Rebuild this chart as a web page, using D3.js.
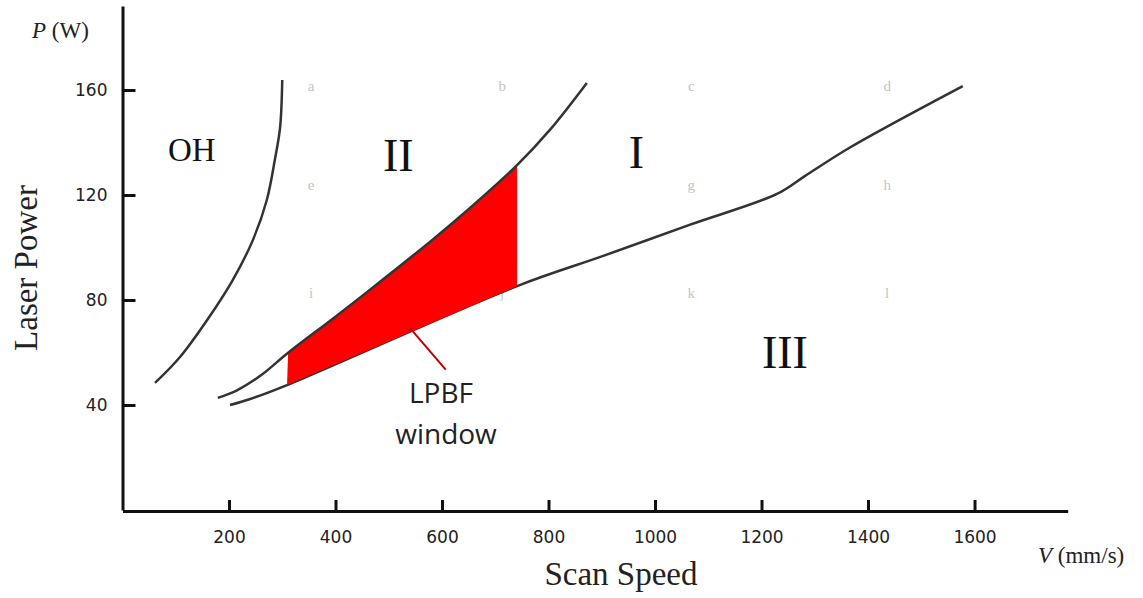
<!DOCTYPE html>
<html>
<head>
<meta charset="utf-8">
<script src="https://cdnjs.cloudflare.com/ajax/libs/d3/7.8.5/d3.min.js"></script>
<style>
  body { margin: 0; background: #fff; }
  .axis path, .axis line { stroke: #111; stroke-width: 3; }
  .axis text { font-family: "DejaVu Sans", sans-serif; font-size: 17px; fill: #222; }
</style>
</head>
<body>
<script>
// boundary curves, [scan speed (mm/s), laser power (W)]
var ohCurve = [[61, 48.4], [108, 58.3], [159, 72.4], [207, 87.6], [245, 102.9],
               [271, 118.1], [286, 133.3], [296, 145.9], [300, 163.8]];
var upperCurve = [[179, 42.7], [215, 45.6], [260, 51.3], [311, 59.9], [395, 72.9], [459, 83.0],
                  [583, 103.1], [634, 111.8], [741, 131.4], [803, 144.9], [872, 162.7]];
var lowerCurve = [[202, 40.0], [240, 42.3], [309, 47.6], [741, 85.3], [900, 96.6],
                  [1066, 108.7], [1229, 120.4], [1280, 127.0], [1366, 138.1], [1578, 161.5]];

// LPBF window polygon: top edge follows the upper curve
var windowTop = [[311, 59.9], [395, 72.9], [459, 83.0], [583, 103.1], [634, 111.8], [741, 131.4]];
var windowBottom = [[741, 85.3], [309, 47.6]];

var xTicks = [200, 400, 600, 800, 1000, 1200, 1400, 1600];
var yTicks = [40, 80, 120, 160];

// region labels
var regionNames = ["OH", "II", "I", "III"];
var regionPos = [[130, 137], [518, 135], [965, 136], [1244, 60]];
var regionSize = [33, 46, 46, 46];

// faint sample letters
var sampleLetters = ["a", "b", "c", "d", "e", "f", "g", "h", "i", "j", "k", "l"];
var sampleSpeeds = [354, 713, 1068, 1436];
var samplePowers = [161.5, 123.8, 82.7];

var svgWidth = 1143;
var svgHeight = 598;

var xScale = d3.scaleLinear()
               .domain([0, 1775])
               .range([122.5, 1067.7]);

var yScale = d3.scaleLinear()
               .domain([0, 192])
               .range([510, 6]);

var svg = d3.select("body")
            .append("svg")
            .attr("width", svgWidth)
            .attr("height", svgHeight);

var line = d3.line()
             .x((d) => xScale(d[0]))
             .y((d) => yScale(d[1]))
             .curve(d3.curveCatmullRom.alpha(0.5));

// faint letters behind everything
svg.selectAll("text.sample")
   .data(sampleLetters)
   .enter()
   .append("text")
   .attr("class", "sample")
   .attr("x", (d, i) => xScale(sampleSpeeds[i % 4]))
   .attr("y", (d, i) => yScale(samplePowers[Math.floor(i / 4)]) + 5)
   .attr("text-anchor", "middle")
   .style("font-family", "Liberation Serif, serif")
   .style("font-size", "15px")
   .style("fill", "#c4c4c4")
   .text((d) => d);

svg.append("path")
   .attr("d", line(ohCurve))
   .attr("fill", "none")
   .attr("stroke", "#333")
   .attr("stroke-width", 2.5);

svg.append("path")
   .attr("d", line(lowerCurve))
   .attr("fill", "none")
   .attr("stroke", "#333")
   .attr("stroke-width", 2.5);

svg.append("path")
   .attr("d", line(windowTop) + windowBottom.map((d) => "L" + xScale(d[0]) + "," + yScale(d[1])).join("") + "Z")
   .attr("fill", "#ff0000");

svg.append("path")
   .attr("d", line(upperCurve))
   .attr("fill", "none")
   .attr("stroke", "#333")
   .attr("stroke-width", 2.5);

// annotation pointer
svg.append("line")
   .attr("x1", xScale(540)).attr("y1", yScale(69.3))
   .attr("x2", xScale(607)).attr("y2", yScale(53.5))
   .attr("stroke", "#c00000")
   .attr("stroke-width", 2);

svg.append("text")
   .attr("x", 441).attr("y", 403)
   .attr("text-anchor", "middle")
   .style("font-family", "Open Sans, sans-serif")
   .style("font-size", "28px")
   .style("fill", "#222")
   .text("LPBF");

svg.append("text")
   .attr("x", 446).attr("y", 444)
   .attr("text-anchor", "middle")
   .style("font-family", "Open Sans, sans-serif")
   .style("font-size", "28px")
   .style("fill", "#222")
   .text("window");

// region names
svg.selectAll("text.region")
   .data(regionNames)
   .enter()
   .append("text")
   .attr("class", "region")
   .attr("x", (d, i) => xScale(regionPos[i][0]))
   .attr("y", (d, i) => yScale(regionPos[i][1]) + regionSize[i] * 0.33)
   .attr("text-anchor", "middle")
   .style("font-family", "Liberation Serif, serif")
   .style("font-size", (d, i) => regionSize[i] + "px")
   .style("fill", "#111")
   .text((d) => d);

// axes
var xAxis = d3.axisBottom(xScale)
              .tickValues(xTicks)
              .tickFormat(d3.format("d"))
              .tickSizeInner(-11)
              .tickSizeOuter(0)
              .tickPadding(20);

svg.append("g")
   .attr("class", "axis")
   .attr("transform", "translate(0," + 511 + ")")
   .call(xAxis);

var yAxis = d3.axisLeft(yScale)
              .tickValues(yTicks)
              .tickSizeInner(-13)
              .tickSizeOuter(0)
              .tickPadding(15);

svg.append("g")
   .attr("class", "axis")
   .attr("transform", "translate(" + xScale(0) + ",0)")
   .call(yAxis);

// axis titles
svg.append("text")
   .attr("transform", "translate(37,268) rotate(-90)")
   .attr("text-anchor", "middle")
   .style("font-family", "Liberation Serif, serif")
   .style("font-size", "33px")
   .style("fill", "#222")
   .text("Laser Power");

svg.append("text")
   .attr("x", 621).attr("y", 585)
   .attr("text-anchor", "middle")
   .style("font-family", "Liberation Serif, serif")
   .style("font-size", "33px")
   .style("fill", "#222")
   .text("Scan Speed");

var pLabel = svg.append("text")
   .attr("x", 32).attr("y", 38)
   .style("font-family", "Liberation Serif, serif")
   .style("font-size", "23px")
   .style("fill", "#222");
pLabel.append("tspan").style("font-style", "italic").text("P");
pLabel.append("tspan").text(" (W)");

var vLabel = svg.append("text")
   .attr("x", 1038).attr("y", 563)
   .style("font-family", "Liberation Serif, serif")
   .style("font-size", "23px")
   .style("fill", "#222");
vLabel.append("tspan").style("font-style", "italic").text("V");
vLabel.append("tspan").text(" (mm/s)");
</script>
</body>
</html>
